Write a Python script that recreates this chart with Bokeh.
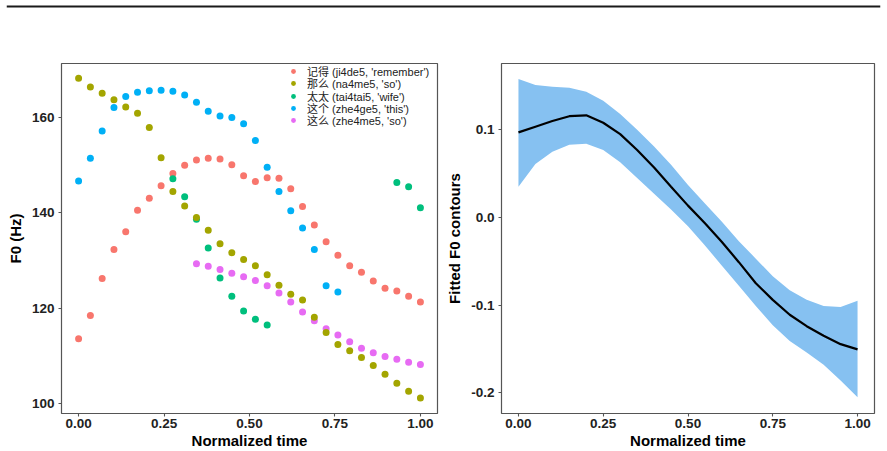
import math
from bokeh.plotting import figure
from bokeh.models import (FixedTicker, PrintfTickFormatter, Legend, LegendItem,
                          Span, ColumnDataSource, Range1d)
from bokeh.layouts import column, row
from bokeh.embed import file_html
from bokeh.resources import INLINE

NAN = float("nan")

# ---------------- data: left panel (raw F0) ----------------
time = [i / 29 for i in range(30)]

words = ["记得 (ji4de5, 'remember')", "那么 (na4me5, 'so')", "太太 (tai4tai5, 'wife')",
         "这个 (zhe4ge5, 'this')", "这么 (zhe4me5, 'so')"]
colors = ["#F8766D", "#A3A500", "#00BF7D", "#00B0F6", "#E76BF3"]

f0_jide = [113.6, 118.5, 126.2, 132.3, 136.0, 140.5, 143.0, 145.6, 148.2, 149.9,
           151.0, 151.4, 151.2, 150.0, 147.7, 146.5, 147.3, 147.2, 145.0, 141.3,
           137.4, 133.9, 131.1, 128.9, 127.5, 125.7, 124.2, 123.6, 122.5, 121.3]
f0_name = [168.1, 166.3, 165.0, 163.6, 162.1, 160.8, 157.8, 151.5, 144.4, 141.4,
           139.0, 136.3, 133.5, 131.6, 130.2, 128.9, 127.0, 124.8, 122.9, 121.7,
           118.1, 114.9, 112.4, 111.1, 109.7, 108.0, 106.2, 104.3, 102.6, 101.2]
f0_taitai = [NAN, NAN, NAN, NAN, NAN, NAN, NAN, NAN, 147.1, 143.3,
             138.6, 132.6, 126.3, 122.5, 119.4, 117.7, 116.5, NAN, NAN, NAN,
             NAN, NAN, NAN, NAN, NAN, NAN, NAN, 146.3, 145.4, 141.0]
f0_zhege = [146.6, 151.4, 157.1, 162.0, 164.3, 165.2, 165.5, 165.6, 165.4, 164.6,
            163.1, 161.2, 160.2, 159.9, 158.6, 155.1, 149.5, 144.4, 140.4, 136.8,
            132.3, 124.7, 123.4, NAN, NAN, NAN, NAN, NAN, NAN, NAN]
f0_zheme = [NAN, NAN, NAN, NAN, NAN, NAN, NAN, NAN, NAN, NAN,
            129.3, 128.8, 128.1, 127.3, 126.6, 125.8, 124.7, 123.2, 121.3, 119.2,
            117.4, 115.7, 114.4, 113.0, 111.6, 110.7, 109.9, 109.3, 108.7, 108.2]
series = [f0_jide, f0_name, f0_taitai, f0_zhege, f0_zheme]

# ---------------- data: right panel (fitted contour) ----------------
fit_time = [0.00, 0.05, 0.10, 0.15, 0.20, 0.25, 0.30, 0.35, 0.40, 0.45, 0.50,
            0.55, 0.60, 0.65, 0.70, 0.75, 0.80, 0.85, 0.90, 0.95, 1.00]
fit_mean = [0.097, 0.1035, 0.110, 0.1155, 0.1165, 0.108, 0.095, 0.077, 0.057, 0.035, 0.0135,
            -0.0065, -0.028, -0.051, -0.075, -0.094, -0.111, -0.124, -0.135, -0.1445, -0.1505]
fit_upper = [0.158, 0.151, 0.149, 0.148, 0.1435, 0.133, 0.118, 0.100, 0.081, 0.060, 0.037,
             0.016, -0.005, -0.027, -0.047, -0.067, -0.083, -0.094, -0.101, -0.102, -0.095]
fit_lower = [0.035, 0.061, 0.075, 0.083, 0.084, 0.077, 0.063, 0.045, 0.027, 0.009, -0.010,
             -0.032, -0.055, -0.078, -0.101, -0.123, -0.141, -0.154, -0.168, -0.186, -0.205]

x_ticks = [0, 0.25, 0.5, 0.75, 1.0]
f0_ticks = [100, 120, 140, 160]
fit_ticks = [-0.2, -0.1, 0.0, 0.1]

FONT = "Liberation Sans"
BORDER = "#555555"


def style(p):
    p.outline_line_color = BORDER
    p.outline_line_width = 1.2
    p.grid.visible = False
    p.background_fill_color = "white"
    p.border_fill_color = "white"
    for ax in p.axis:
        ax.axis_line_color = None
        ax.major_tick_line_color = BORDER
        ax.major_tick_line_width = 1.1
        ax.major_tick_out = 3
        ax.major_tick_in = 0
        ax.minor_tick_line_color = None
        ax.major_label_text_font = FONT
        ax.major_label_text_font_style = "bold"
        ax.major_label_text_font_size = "13.5px"
        ax.major_label_text_color = "#222222"
        ax.axis_label_text_font = FONT
        ax.axis_label_text_font_style = "bold"
        ax.axis_label_text_font_size = "15px"
        ax.axis_label_text_color = "#000000"
    p.xaxis.major_label_standoff = 2
    p.xaxis.axis_label_standoff = 1
    p.yaxis.major_label_standoff = 4
    p.yaxis.axis_label_standoff = 5
    p.xaxis.ticker = FixedTicker(ticks=x_ticks)
    p.xaxis.formatter = PrintfTickFormatter(format="%.2f")
    p.xaxis.axis_label = "Normalized time"


# ---------------- top rule ----------------
rule = figure(width=887, height=12, x_range=(0, 1), y_range=(0, 1),
              min_border_left=6, min_border_right=7, min_border_top=0, min_border_bottom=0,
              toolbar_location=None, output_backend="svg")
rule.axis.visible = False
rule.grid.visible = False
rule.outline_line_color = None
rule.add_layout(Span(location=0.5, dimension="width", line_color="#1a1a1a", line_width=2))

# ---------------- left panel ----------------
p1 = figure(width=443, height=439, x_range=Range1d(-0.05, 1.05), y_range=Range1d(97.97, 171.2),
            min_border_left=61, min_border_right=6, min_border_top=51, min_border_bottom=38,
            toolbar_location=None, output_backend="svg")
style(p1)
p1.yaxis.ticker = FixedTicker(ticks=f0_ticks)
p1.yaxis.axis_label = "F0 (Hz)"

renderers = [None] * 5
for k in [0, 2, 3, 4, 1]:
    src = ColumnDataSource(dict(x=time, y=series[k]))
    renderers[k] = p1.scatter("x", "y", source=src, size=7, color=colors[k], line_color=None)

# one single-item legend per row, so rows can sit closer than Bokeh's item height
ROW_PITCH = 12.3
for k in range(5):
    lg = Legend(items=[LegendItem(label=words[k], renderers=[renderers[k]])],
                location=(225, 334 - ROW_PITCH * k), border_line_color=None,
                background_fill_alpha=0,
                label_text_font="'Liberation Sans', 'Noto Sans CJK SC'",
                label_text_font_size="11px", label_text_color="#222222",
                glyph_width=14, glyph_height=12, label_height=12, spacing=0, padding=0,
                margin=0, label_standoff=7)
    p1.add_layout(lg)

# ---------------- right panel ----------------
p2 = figure(width=444, height=439, x_range=Range1d(-0.05, 1.05), y_range=Range1d(-0.2236, 0.1756),
            min_border_left=56, min_border_right=13, min_border_top=51, min_border_bottom=38,
            toolbar_location=None, output_backend="svg")
style(p2)
p2.yaxis.ticker = FixedTicker(ticks=fit_ticks)
p2.yaxis.formatter = PrintfTickFormatter(format="%.1f")
p2.yaxis.axis_label = "Fitted F0 contours"

fsrc = ColumnDataSource(dict(x=fit_time, m=fit_mean, lo=fit_lower, hi=fit_upper))
p2.varea(x="x", y1="lo", y2="hi", source=fsrc, fill_color="#86C1F1", fill_alpha=1.0)
p2.line(x="x", y="m", source=fsrc, line_color="black", line_width=2.2)

layout = column(rule, row(p1, p2))
open("out.html", "w").write(file_html(layout, INLINE))
